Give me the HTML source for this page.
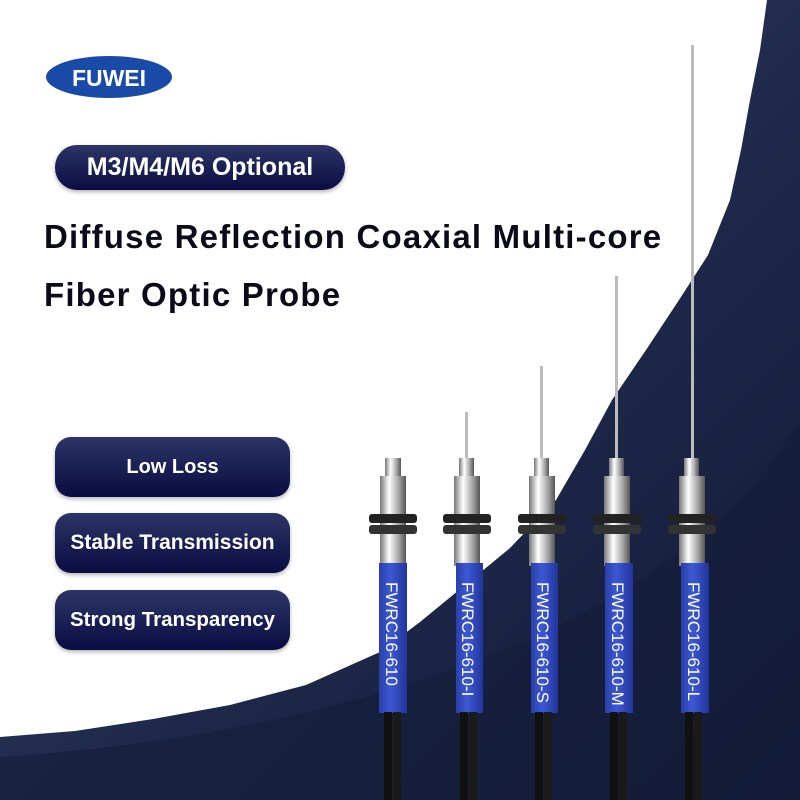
<!DOCTYPE html>
<html><head><style>
body{margin:0;width:800px;height:800px;overflow:hidden;background:#fff;font-family:"Liberation Sans",sans-serif;position:relative}
.pill{position:absolute;border-radius:22px;background:linear-gradient(#2c3566,#0a0c42);color:#fff;font-weight:bold;display:flex;align-items:center;justify-content:center;box-shadow:0 2px 4px rgba(0,0,0,.3);white-space:nowrap}
h1{position:absolute;left:44px;margin:0;font-size:33px;letter-spacing:1.2px;color:#0a0a1a;font-weight:bold;white-space:nowrap}
</style></head><body>
<svg width="800" height="800" style="position:absolute;left:0;top:0">
<defs>
<linearGradient id="bg" x1="0" y1="0" x2="1" y2="1"><stop offset="0" stop-color="#34456f"/><stop offset=".6" stop-color="#1d2748"/><stop offset="1" stop-color="#121a36"/></linearGradient>
</defs>
<path d="M767,0 L760,50 L750,100 L741,150 L730,200 L708,255 L679,300 L646,350 L612,400 L585,450 L556,500 L510,548 L459,590 L420,622 L380,652 L306,685 L230,705 L153,719 L75,731 L0,737 L0,800 L800,800 L800,0 Z" fill="url(#bg)"/>
<path d="M800,420 C700,600 400,730 0,757 L0,800 L800,800Z" fill="#141c38" opacity=".6"/>
<ellipse cx="109" cy="77" rx="63" ry="21" fill="#1a4aa8"/>
<text x="109" y="86" font-size="23" font-weight="bold" fill="#fff" text-anchor="middle" font-family="Liberation Sans">FUWEI</text>
</svg>
<div class="pill" style="left:55px;top:145px;width:290px;height:45px;font-size:25px">M3/M4/M6 Optional</div>
<h1 style="top:218px">Diffuse Reflection Coaxial Multi-core</h1>
<h1 style="top:276px">Fiber Optic Probe</h1>
<div class="pill" style="left:55px;top:437px;width:235px;height:60px;font-size:20px;border-radius:16px">Low Loss</div>
<div class="pill" style="left:55px;top:513px;width:235px;height:60px;font-size:21px;border-radius:16px">Stable Transmission</div>
<div class="pill" style="left:55px;top:590px;width:235px;height:60px;font-size:20.5px;border-radius:16px">Strong Transparency</div>
<svg width="800" height="800" style="position:absolute;left:0;top:0">
<defs>
<linearGradient id="met2" x1="0" x2="1"><stop offset="0" stop-color="#777"/><stop offset=".35" stop-color="#fff"/><stop offset=".7" stop-color="#aaa"/><stop offset="1" stop-color="#555"/></linearGradient>
<linearGradient id="blu2" x1="0" x2="1"><stop offset="0" stop-color="#2a3fa8"/><stop offset=".4" stop-color="#3c58d4"/><stop offset="1" stop-color="#22359a"/></linearGradient>
</defs>
<g font-family="Liberation Sans" font-size="17" fill="#fff">
<rect x="385" y="458" width="16" height="20" fill="url(#met2)"/>
<rect x="380" y="476" width="26" height="90" fill="url(#met2)"/>
<rect x="369" y="514" width="48" height="9" rx="3" fill="#222"/><rect x="369" y="525" width="48" height="9" rx="3" fill="#333"/>
<rect x="379" y="563" width="28" height="150" fill="url(#blu2)"/>
<text transform="translate(386,582) rotate(90)">FWRC16-610</text>
<rect x="384" y="712" width="8" height="88" fill="#111"/><rect x="393" y="712" width="8" height="88" fill="#1a1a1a"/>
<rect x="465" y="412" width="3" height="50" fill="#bbb"/>
<rect x="459" y="458" width="15" height="20" fill="url(#met2)"/>
<rect x="454" y="476" width="26" height="90" fill="url(#met2)"/>
<rect x="443" y="514" width="48" height="9" rx="3" fill="#222"/><rect x="443" y="525" width="48" height="9" rx="3" fill="#333"/>
<rect x="456" y="563" width="27" height="150" fill="url(#blu2)"/>
<text transform="translate(462,582) rotate(90)">FWRC16-610-I</text>
<rect x="460" y="712" width="8" height="88" fill="#111"/><rect x="469" y="712" width="8" height="88" fill="#1a1a1a"/>
<rect x="540" y="366" width="3" height="96" fill="#bbb"/>
<rect x="534" y="458" width="15" height="20" fill="url(#met2)"/>
<rect x="529" y="476" width="26" height="90" fill="url(#met2)"/>
<rect x="518" y="514" width="48" height="9" rx="3" fill="#222"/><rect x="518" y="525" width="48" height="9" rx="3" fill="#333"/>
<rect x="531" y="563" width="27" height="150" fill="url(#blu2)"/>
<text transform="translate(537,582) rotate(90)">FWRC16-610-S</text>
<rect x="535" y="712" width="8" height="88" fill="#111"/><rect x="544" y="712" width="8" height="88" fill="#1a1a1a"/>
<rect x="615" y="276" width="3" height="186" fill="#bbb"/>
<rect x="609" y="458" width="15" height="20" fill="url(#met2)"/>
<rect x="604" y="476" width="26" height="90" fill="url(#met2)"/>
<rect x="593" y="514" width="48" height="9" rx="3" fill="#222"/><rect x="593" y="525" width="48" height="9" rx="3" fill="#333"/>
<rect x="605" y="563" width="28" height="150" fill="url(#blu2)"/>
<text transform="translate(612,582) rotate(90)">FWRC16-610-M</text>
<rect x="610" y="712" width="8" height="88" fill="#111"/><rect x="619" y="712" width="8" height="88" fill="#1a1a1a"/>
<rect x="691" y="45" width="3" height="417" fill="#bbb"/>
<rect x="684" y="458" width="15" height="20" fill="url(#met2)"/>
<rect x="679" y="476" width="26" height="90" fill="url(#met2)"/>
<rect x="668" y="514" width="48" height="9" rx="3" fill="#222"/><rect x="668" y="525" width="48" height="9" rx="3" fill="#333"/>
<rect x="681" y="563" width="28" height="150" fill="url(#blu2)"/>
<text transform="translate(688,582) rotate(90)">FWRC16-610-L</text>
<rect x="685" y="712" width="8" height="88" fill="#111"/><rect x="694" y="712" width="8" height="88" fill="#1a1a1a"/>
</g>
</svg>
</body></html>
